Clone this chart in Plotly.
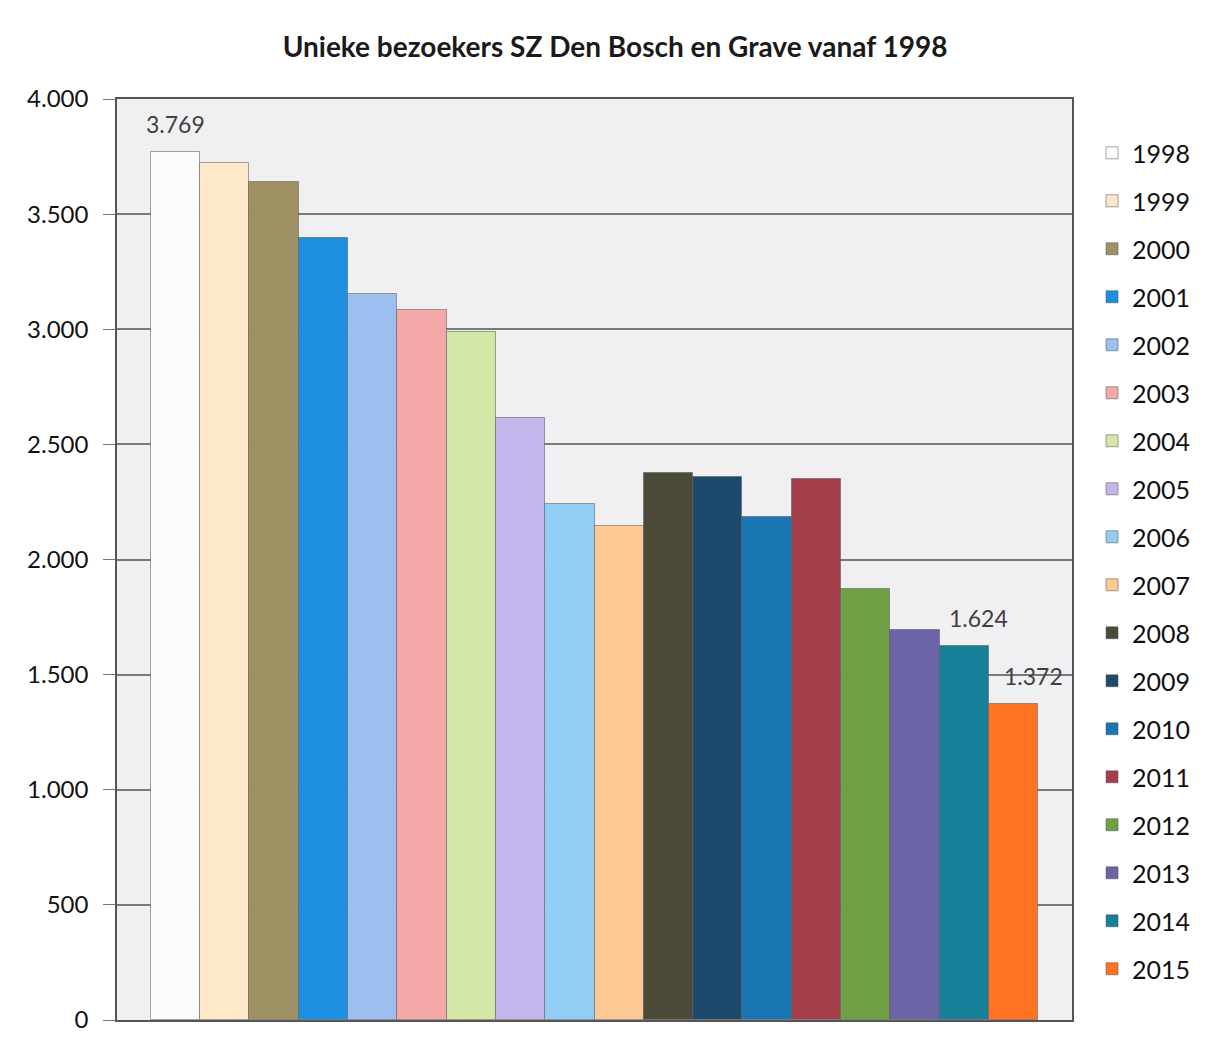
import plotly.graph_objects as go

years = ["1998", "1999", "2000", "2001", "2002", "2003", "2004", "2005", "2006",
         "2007", "2008", "2009", "2010", "2011", "2012", "2013", "2014", "2015"]
visitors = [3769, 3720, 3640, 3395, 3155, 3085, 2990, 2615, 2240,
            2145, 2375, 2360, 2185, 2350, 1870, 1695, 1624, 1372]
colors = ["#fbfcfe", "#fde8c8", "#9e9264", "#1e8fe0", "#9cbff0", "#f5a8a8",
          "#d3e8a6", "#c4b6ec", "#92cdf4", "#fcc994", "#4b4a38", "#1d4a6c",
          "#1a76b2", "#a43e4a", "#70a046", "#6a64a6", "#177f98", "#ff7322"]
labelled_years = ["1998", "2014", "2015"]
title_text = "Unieke bezoekers SZ Den Bosch en Grave vanaf 1998"

fig = go.Figure()
for yr, val, col in zip(years, visitors, colors):
    fig.add_trace(go.Bar(
        x=[yr], y=[val], name=yr, legendgroup=yr,
        marker=dict(color=col, line=dict(color="rgba(90,90,90,0.55)", width=1)),
        hoverinfo="x+y",
    ))

label_xshift = {"1998": 0, "2014": 14, "2015": 20}
for i, (yr, val) in enumerate(zip(years, visitors)):
    if yr in labelled_years:
        fig.add_annotation(
            x=i, y=val, xref="x", yref="y",
            text=f"{val:,}".replace(",", "."),
            showarrow=False, yanchor="bottom", yshift=12,
            xshift=label_xshift[yr],
            font=dict(family="Lato, sans-serif", size=23, color="#404040"),
        )

fig.update_layout(
    width=1206, height=1046,
    paper_bgcolor="white", plot_bgcolor="#f0f0f3",
    margin=dict(l=117, r=134, t=99, b=26),
    barmode="overlay", bargap=0.0,
    separators=",.",
    title=dict(text="<b>" + title_text + "</b>", x=0.51, xanchor="center",
               y=0.955, yanchor="middle",
               font=dict(family="Lato, sans-serif", size=28, color="#1a1a1a")),
    legend=dict(xref="container", yref="container",
                x=0.9055, xanchor="left", y=0.8757, yanchor="top",
                font=dict(family="Lato, sans-serif", size=25, color="#111111"),
                tracegroupgap=12.5, itemwidth=30, bgcolor="rgba(0,0,0,0)",
                maxheight=1040),
    showlegend=True,
)
fig.update_xaxes(type="category", showticklabels=False, range=[-1.18, 18.18],
                 showline=True, linecolor="#555555", linewidth=1.5, mirror=True,
                 showgrid=False, ticks="")
fig.update_yaxes(range=[0, 4000], dtick=500, tickformat=",d",
                 showgrid=True, gridcolor="#7a7a7a", gridwidth=1.5,
                 showline=True, linecolor="#555555", linewidth=1.5, mirror=True,
                 ticks="outside", ticklen=12, tickcolor="#777777",
                 ticklabelstandoff=10,
                 tickfont=dict(family="Lato, sans-serif", size=24, color="#111111"),
                 zeroline=False)

fig.write_html("out.html")
